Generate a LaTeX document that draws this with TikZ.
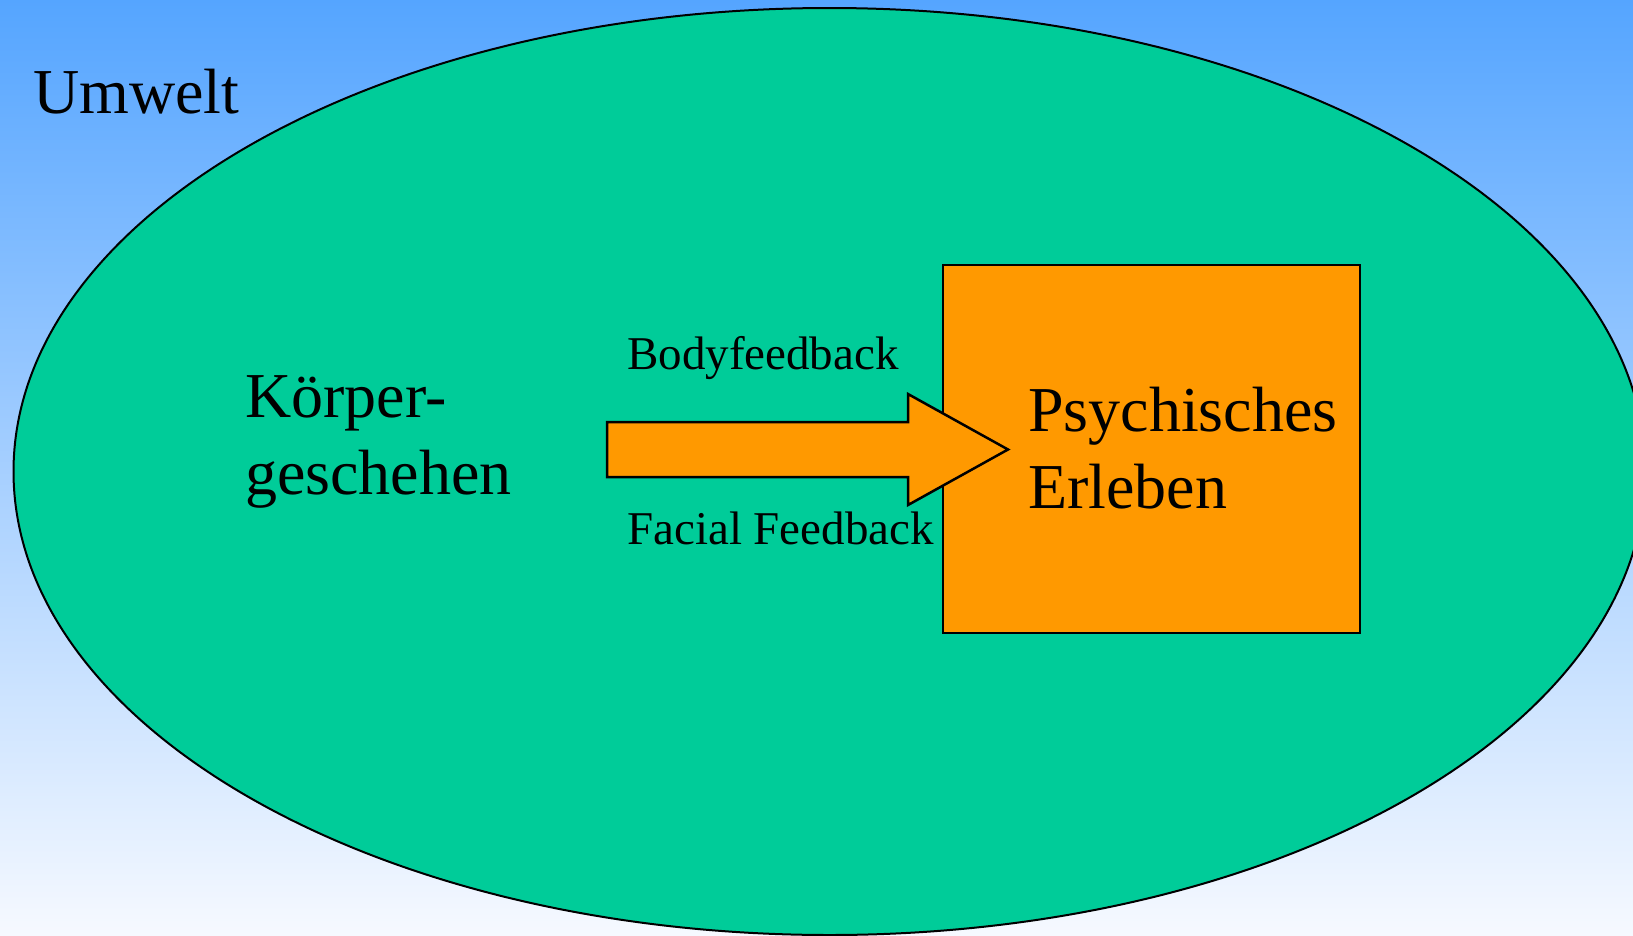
\documentclass[tikz,border=0pt]{standalone}
\usepackage{fontspec}
\setmainfont{Liberation Serif}
\usetikzlibrary{shapes.geometric}
\definecolor{skyblue}{RGB}{85,165,255}
\definecolor{paleblue}{RGB}{246,249,255}
\definecolor{seagreen}{RGB}{0,204,153}
\definecolor{boxorange}{RGB}{255,153,0}
\begin{document}
\begin{tikzpicture}[x=1pt,y=-1pt,
		bigtext/.style={inner sep=0,font=\fontsize{64}{77}\selectfont,align=left},
		smalltext/.style={inner sep=0,font=\fontsize{47}{56}\selectfont}]
		\useasboundingbox (0,0) rectangle (1633,935);
		\clip (0,0) rectangle (1633,935);
		\fill[top color=skyblue,bottom color=paleblue] (0,0) rectangle (1633,935);
		
		\node[ellipse,draw,fill=seagreen,line width=2pt,inner sep=0,minimum width=1632pt,minimum height=927pt] (umwelt) at (829.5,471.5) {};
		\node[rectangle,draw,fill=boxorange,line width=2.5pt,minimum width=417pt,minimum height=368pt] (erleben) at (1151.5,449) {};
		
		% Pfeil
		\coordinate (tail) at (607,449.5);
		\coordinate (tip) at (1008,449.5);
		\draw[fill=boxorange,line width=2.5pt,line join=miter] (tail) ++(0,-27.5) -- ++(301,0) -- ++(0,-28) -- (tip) -- (908,505) -- (908,477) -- (607,477) -- cycle;
		
		\node[bigtext,anchor=base west] (umwelttext) at (33,113) {Umwelt};
		\node[bigtext,anchor=base west] (koerper) at (245,494) {Körper-\\geschehen};
		\node[bigtext,anchor=base west] (psychisch) at (1028,508) {Psychisches\\Erleben};
		\node[smalltext,anchor=base west] (body) at (627,369) {Bodyfeedback};
		\node[smalltext,anchor=base west] (facial) at (627,544) {Facial Feedback};
	\end{tikzpicture}
\end{document}
